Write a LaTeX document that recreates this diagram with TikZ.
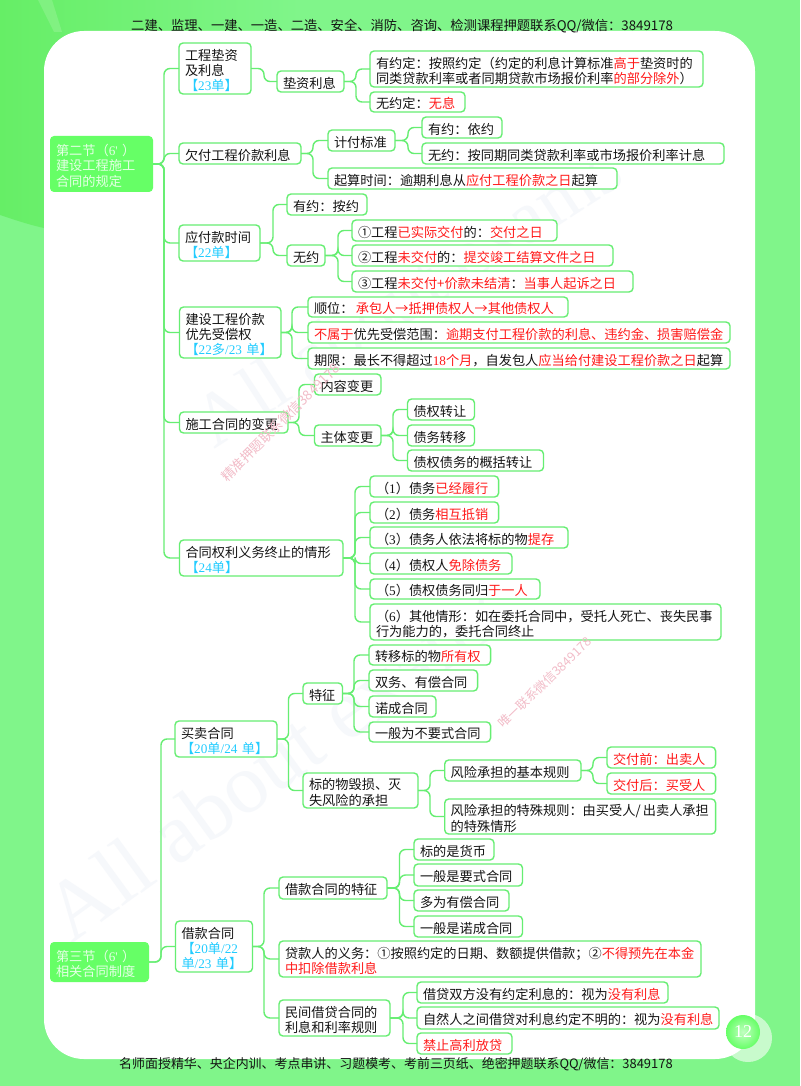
\documentclass[tikz,border=0pt]{standalone}
\usepackage{fontspec}
\setmainfont{Noto Sans CJK SC}
\newfontfamily\lat{Liberation Serif}
\usetikzlibrary{calc}
\definecolor{gbase}{HTML}{80F58A}
\definecolor{gleft}{HTML}{66EE66}
\definecolor{gline}{HTML}{66EE72}
\definecolor{groot}{HTML}{66FF66}
\definecolor{rtext}{HTML}{E4FFE4}
\definecolor{rd}{HTML}{FF1A1A}
\definecolor{cy}{HTML}{22CCFF}
\definecolor{ink}{HTML}{141414}
\definecolor{pale}{HTML}{F6F8FB}
\definecolor{wm}{HTML}{F2BCC8}
\newcommand{\rt}[1]{\textcolor{rd}{#1}}
\newcommand{\cyt}[1]{\textcolor{cy}{#1}}
\newcommand{\dgt}[1]{{\lat #1}}
\tikzset{
  mbox/.style={draw=gline,line width=1.4pt,rounded corners=4pt,fill=white,inner xsep=6pt,inner ysep=0pt,outer sep=0pt,
    align=left,text=ink,anchor=north west,font=\fontsize{13.2}{15.3}\selectfont},
  rootbox/.style={mbox,draw=none,fill=groot,text=rtext},
  conn/.style={draw=gline,line width=1.4pt,rounded corners=6pt},
  hdr/.style={anchor=west,inner sep=0pt,text=ink,font=\fontsize{13.3}{15}\selectfont},
  mark1/.style={inner sep=0pt,text=wm,anchor=south west},
  big/.style={inner sep=0pt,text=pale,anchor=south west},
}
\newcommand{\bx}[7][mbox]{%
  \pgfmathsetlengthmacro\bxw{(#5-#3)*1pt-12pt}%
  \pgfmathsetlengthmacro\bxh{(#6-#4)*1pt}%
  \node[#1,text width=\bxw,minimum height=\bxh] (#2) at (#3,#4) {\rule{0pt}{15pt}#7};}
\newcommand{\lnk}[3]{%
  \coordinate (tk) at (#2,0);
  \draw[conn] (#1.east) -- (#1.east -| tk) -- (#3.west -| tk) -- (#3.west);}
\begin{document}
\begin{tikzpicture}[x=1pt,y=-1pt]
\path[use as bounding box] (0,0) rectangle (800,1086);
\fill[gbase] (0,0) rectangle (800,1086);
\shade[left color=gleft,right color=gbase] (0,0) -- (300,0) -- (300,40) .. controls (150,60) and (60,140) .. (44,228) .. controls (30,225) and (15,220) .. (0,215) -- cycle;
\fill[white,opacity=.15] (38,0) -- (52,0) -- (62,32) -- (54,32) -- cycle;
% halo and page number
\fill[white,opacity=.35] (748,1038) circle (24);
\fill[white,rounded corners=40pt] (44,31) rectangle (755,1059);
\fill[white,opacity=.35] (748,1038) circle (24);
\shade[inner color=white!60!groot,outer color=groot] (743,1032) circle (17);
\node[inner sep=0pt,text=white,font=\lat\fontsize{18}{18}\selectfont] (pageno) at (743,1032) {12};
% pale watermarks
\node[big,rotate=36,font=\lat\fontsize{85}{85}\selectfont] (wma) at (72,945) {All about exams};
\node[big,rotate=33,font=\lat\fontsize{75}{75}\selectfont] (wmb) at (215,450) {All about exams};
% header and footer
\node[hdr] (head) at (131,26) {二建、监理、一建、一造、二造、安全、消防、咨询、检测课程押题联系QQ/微信：3849178};
\node[hdr,font=\fontsize{12.95}{15}\selectfont] (foot) at (119,1064) {名师面授精华、央企内训、考点串讲、习题模考、考前三页纸、绝密押题联系QQ/微信：3849178};
% section 2
\bx[rootbox]{s2}{50}{136}{153}{192}{第二节（\dgt{6'} ）\\建设工程施工\\合同的规定}
\bx{a1}{179}{43}{251}{94}{工程垫资\\及利息\\\cyt{【\dgt{23}单】}}
\bx{a11}{277}{71}{344}{92}{垫资利息}
\bx{a111}{370}{51}{703}{87}{有约定：按照约定（约定的利息计算标准\rt{高于}垫资时的\\同类贷款利率或者同期贷款市场报价利率\rt{的部分除外}）}
\bx{a112}{370}{92}{465}{112}{无约定：\rt{无息}}
\bx{a2}{179}{143}{301}{164}{欠付工程价款利息}
\bx{a21}{328}{130}{395}{151}{计付标准}
\bx{a22}{328}{168}{617}{189}{起算时间：逾期利息从\rt{应付工程价款之日}起算}
\bx{a211}{422}{117}{502}{138}{有约：依约}
\bx{a212}{422}{143}{724}{164}{无约：按同期同类贷款利率或市场报价利率计息}
\bx{a3}{179}{225}{260}{261}{应付款时间\\\cyt{【\dgt{22}单】}}
\bx{a31}{287}{194}{367}{215}{有约：按约}
\bx{a32}{287}{245}{325}{266}{无约}
\bx{a321}{352}{220}{557}{241}{①工程\rt{已实际交付}的：\rt{交付之日}}
\bx{a322}{352}{245}{613}{266}{②工程\rt{未交付}的：\rt{提交竣工结算文件之日}}
\bx{a323}{352}{271}{633}{292}{③工程\rt{未交付+价款未结清}：\rt{当事人起诉之日}}
\bx{a4}{179.5}{307}{281}{358}{建设工程价款\\优先受偿权\\\cyt{【\dgt{22}多\dgt{/23} 单】}}
\bx{a41}{308}{297}{568}{317}{顺位：\,\rt{承包人→抵押债权人→其他债权人}}
\bx{a42}{308}{322}{730}{343}{\rt{不属于}优先受偿范围：\rt{逾期支付工程价款的利息、违约金、损害赔偿金}}
\bx{a43}{308}{348}{730}{369}{期限：最长不得超过\rt{\dgt{18}个月}，自发包人\rt{应当给付建设工程价款之日}起算}
\bx{a5}{179.5}{412}{288}{433}{施工合同的变更}
\bx{a51}{314.5}{374}{381}{395}{内容变更}
\bx{a52}{314.5}{425}{381}{446}{主体变更}
\bx{a521}{407.5}{399}{474.5}{420}{债权转让}
\bx{a522}{407.5}{425}{474.5}{446}{债务转移}
\bx{a523}{407.5}{450}{543.5}{471}{债权债务的概括转让}
\bx{a6}{179.5}{540}{343}{576}{合同权利义务终止的情形\\\cyt{【\dgt{24}单】}}
\bx{a61}{370}{476}{498.6}{497}{（\dgt{1}）债务\rt{已经履行}}
\bx{a62}{370}{502}{498.6}{523}{（\dgt{2}）债务\rt{相互抵销}}
\bx{a63}{370}{527}{568}{548}{（\dgt{3}）债务人依法将标的物\rt{提存}}
\bx{a64}{370}{553}{512}{574}{（\dgt{4}）债权人\rt{免除债务}}
\bx{a65}{370}{579}{540}{599}{（\dgt{5}）债权债务同归\rt{于一人}}
\bx{a66}{370}{604}{721}{640}{（\dgt{6}）其他情形：如在委托合同中，受托人死亡、丧失民事\\行为能力的，委托合同终止}
% section 3
\bx[rootbox]{s3}{50}{942}{149}{982}{第三节（\dgt{6'} ）\\相关合同制度}
\bx{b1}{175}{721}{277}{757}{买卖合同\\\cyt{【\dgt{20}单\dgt{/24} 单】}}
\bx{b11}{303}{683}{342.5}{704}{特征}
\bx{b111}{369}{645}{490.6}{665}{转移标的物\rt{所有权}}
\bx{b112}{369}{670}{477.6}{691}{双务、有偿合同}
\bx{b113}{369}{696}{436}{717}{诺成合同}
\bx{b114}{369}{722}{490.6}{742}{一般为不要式合同}
\bx{b12}{303}{773}{418}{808}{标的物毁损、灭\\失风险的承担}
\bx{b121}{444.7}{760}{581}{781}{风险承担的基本规则}
\bx{b1211}{607}{747}{715.6}{768}{\rt{交付前：出卖人}}
\bx{b1212}{607}{773}{715.6}{794}{\rt{交付后：买受人}}
\bx{b122}{444.7}{799}{715.6}{834}{风险承担的特殊规则：由买受人/\,出卖人承担\\的特殊情形}
\bx{b2}{175.5}{921}{252.5}{972}{借款合同\\\cyt{【\dgt{20}单\dgt{/22}}\\\cyt{单\dgt{/23} 单】}}
\bx{b21}{279}{877}{387}{899}{借款合同的特征}
\bx{b211}{414}{839}{494}{860}{标的是货币}
\bx{b212}{414}{864}{522.5}{886}{一般是要式合同}
\bx{b213}{414}{890}{509}{911}{多为有偿合同}
\bx{b214}{414}{916}{522.5}{937}{一般是诺成合同}
\bx{b22}{279}{941}{701}{977}{贷款人的义务：①按照约定的日期、数额提供借款；②\rt{不得预先在本金}\\\rt{中扣除借款利息}}
\bx{b23}{279}{1000}{390}{1036}{民间借贷合同的\\利息和利率规则}
\bx{b231}{417}{982}{668}{1003}{借贷双方没有约定利息的：视为\rt{没有利息}}
\bx{b232}{417}{1007}{719}{1029}{自然人之间借贷对利息约定不明的：视为\rt{没有利息}}
\bx{b233}{417}{1033}{512}{1054}{\rt{禁止高利放贷}}
% connectors
\lnk{s2}{164}{a1}\lnk{s2}{164}{a2}\lnk{s2}{164}{a3}\lnk{s2}{164}{a4}\lnk{s2}{164}{a5}\lnk{s2}{164}{a6}
\lnk{a1}{264}{a11}
\lnk{a11}{356}{a111}\lnk{a11}{356}{a112}
\lnk{a2}{313}{a21}\lnk{a2}{313}{a22}
\lnk{a21}{408}{a211}\lnk{a21}{408}{a212}
\lnk{a3}{273}{a31}\lnk{a3}{273}{a32}
\lnk{a32}{338}{a321}\lnk{a32}{338}{a322}\lnk{a32}{338}{a323}
\lnk{a4}{292}{a41}\lnk{a4}{292}{a42}\lnk{a4}{292}{a43}
\lnk{a5}{299}{a51}\lnk{a5}{299}{a52}
\lnk{a52}{393}{a521}\lnk{a52}{393}{a522}\lnk{a52}{393}{a523}
\lnk{a6}{355}{a61}\lnk{a6}{355}{a62}\lnk{a6}{355}{a63}\lnk{a6}{355}{a64}\lnk{a6}{355}{a65}\lnk{a6}{355}{a66}
\lnk{s3}{161}{b1}\lnk{s3}{161}{b2}
\lnk{b1}{288.5}{b11}\lnk{b1}{288.5}{b12}
\lnk{b11}{354}{b111}\lnk{b11}{354}{b112}\lnk{b11}{354}{b113}\lnk{b11}{354}{b114}
\lnk{b12}{430}{b121}\lnk{b12}{430}{b122}
\lnk{b121}{593}{b1211}\lnk{b121}{593}{b1212}
\lnk{b2}{264}{b21}\lnk{b2}{264}{b22}\lnk{b2}{264}{b23}
\lnk{b21}{399.5}{b211}\lnk{b21}{399.5}{b212}\lnk{b21}{399.5}{b213}\lnk{b21}{399.5}{b214}
\lnk{b23}{403}{b231}\lnk{b23}{403}{b232}\lnk{b23}{403}{b233}
% red watermarks
\node[mark1,rotate=45,font=\fontsize{13.5}{14}\selectfont] (wmc) at (228,484) {精准押题联系微信3849178};
\node[mark1,rotate=44,font=\fontsize{12.5}{13}\selectfont] (wmd) at (504,730) {唯一联系微信3849178};
\end{tikzpicture}
\end{document}
